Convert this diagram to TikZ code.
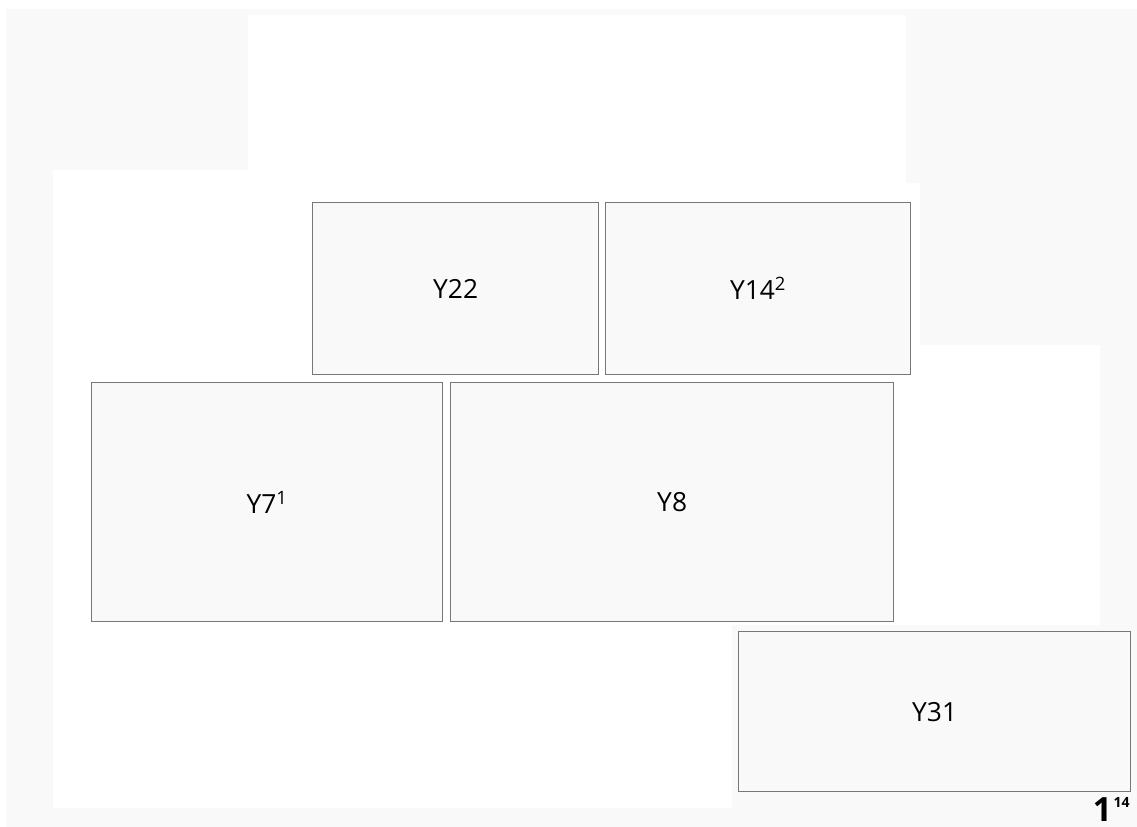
\documentclass[tikz,border=0pt]{standalone}
\usepackage{fontspec}
\setmainfont{Open Sans}
\usepackage{xcolor}
\usepackage{tikz}
\usetikzlibrary{positioning}
\definecolor{fondogris}{HTML}{F9F9F9}
\definecolor{rellenocaja}{HTML}{F9F9F9}
\definecolor{bordecaja}{HTML}{777777}
\tikzset{
  caja/.style={draw=bordecaja,fill=rellenocaja,line width=0.8pt,anchor=north west,
    inner sep=0pt,font=\fontsize{15}{18}\selectfont},
  marca/.style={anchor=base east,inner sep=0pt,font=\fontsize{19}{20}\selectfont\bfseries}
}

\begin{document}
\begin{tikzpicture}[x=0.02cm,y=-0.02cm]
\useasboundingbox (0,0) rectangle (1137,827);
% fondo
\fill[white] (0,0) rectangle (1137,827);
\fill[fondogris] (6,9) rectangle (1137,827);
\fill[white] (248,15) -- (906,15) -- (906,183) -- (920,183) -- (920,345)
  -- (1100,345) -- (1100,625) -- (732,625) -- (732,808) -- (53,808)
  -- (53,170) -- (248,170) -- cycle;
% cajas
\node[caja,minimum width=5.72cm,minimum height=3.44cm] (y22) at (312,202) {Y22};
\node[caja,minimum width=6.10cm,minimum height=3.44cm] (y14) at (605,202) {Y14\textsuperscript{2}};
\node[caja,minimum width=7.02cm,minimum height=4.78cm] (y7) at (91,382) {Y7\textsuperscript{1}};
\node[caja,minimum width=8.86cm,minimum height=4.78cm] (y8) at (450,382) {Y8};
\node[caja,minimum width=7.84cm,minimum height=3.20cm] (y31) at (738,631) {Y31};
\node[marca] (pag) at (1130,821) {1\kern1pt\raisebox{7.5pt}{\fontsize{8}{8}\selectfont 14}};
\end{tikzpicture}
\end{document}
